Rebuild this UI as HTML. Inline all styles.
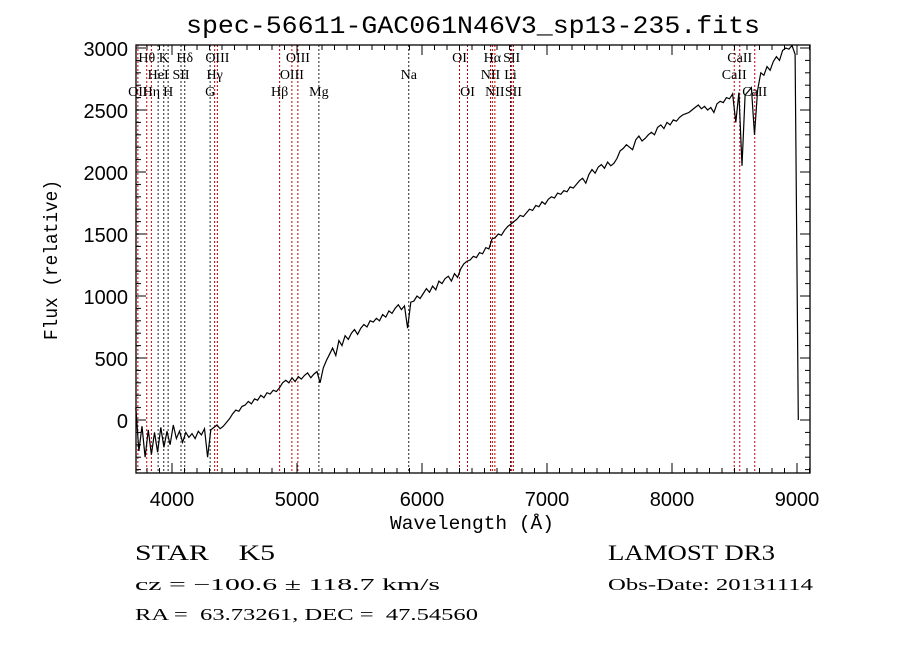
<!DOCTYPE html>
<html><head><meta charset="utf-8"><style>
html,body{margin:0;padding:0;background:#fff;}
svg{display:block;}
.tk{font-family:"Liberation Sans",sans-serif;font-size:20px;fill:#000;}
.ln{font-family:"Liberation Serif",serif;font-size:14px;fill:#000;}
.bt{font-family:"Liberation Serif",serif;fill:#000;}
</style></head><body>
<svg id="chart" width="900" height="649" viewBox="0 0 900 649" xmlns="http://www.w3.org/2000/svg">
<rect width="900" height="649" fill="#fff"/>
<text x="473" y="33" text-anchor="middle" font-family="Liberation Mono, monospace" font-size="25" textLength="574" lengthAdjust="spacingAndGlyphs">spec-56611-GAC061N46V3_sp13-235.fits</text>
<g id="lines"></g>
<g id="labels"></g>
<g id="ticks"></g>
<path id="spec" fill="none" stroke="#000" stroke-width="1.2"/>
<rect x="136" y="45" width="674" height="428" fill="none" stroke="#000" stroke-width="1.3"/>
<text x="472" y="529" text-anchor="middle" font-family="Liberation Mono, monospace" font-size="19" textLength="164" lengthAdjust="spacingAndGlyphs">Wavelength (Å)</text>
<text transform="translate(57,260) rotate(-90)" text-anchor="middle" font-family="Liberation Mono, monospace" font-size="19" textLength="160" lengthAdjust="spacingAndGlyphs">Flux (relative)</text>
<text class="bt" x="135" y="560" font-size="22" textLength="140" lengthAdjust="spacingAndGlyphs" xml:space="preserve" style="white-space:pre">STAR    K5</text>
<text class="bt" x="135" y="590" font-size="17" textLength="305" lengthAdjust="spacingAndGlyphs">cz = −100.6 ± 118.7 km/s</text>
<text class="bt" x="135" y="620" font-size="17" textLength="343" lengthAdjust="spacingAndGlyphs" xml:space="preserve" style="white-space:pre">RA =  63.73261, DEC =  47.54560</text>
<text class="bt" x="608" y="560" font-size="22" textLength="167" lengthAdjust="spacingAndGlyphs">LAMOST DR3</text>
<text class="bt" x="608" y="590" font-size="17" textLength="205" lengthAdjust="spacingAndGlyphs">Obs-Date: 20131114</text>
</svg>
<script>
const waveStart = 3710;
const waveStep = 25;
const flux = [100,-250,-50,-300,-80,-280,-100,-260,-60,-220,-90,-200,
-40,-150,-90,-180,-100,-140,-110,-150,-90,-120,-70,-300,-80,-60,-40,-70,-50,-20,10,50,
80,70,110,120,150,130,170,160,200,180,220,210,240,230,260,300,320,300,340,310,
350,330,360,380,340,370,390,300,420,480,530,580,520,640,600,680,650,700,730,690,
740,770,750,800,790,820,800,850,830,880,860,900,930,890,920,740,950,960,1000,980,
1020,1060,1030,1080,1050,1120,1100,1140,1160,1120,1180,1150,1220,1260,1280,1290,1320,1310,1350,1340,
1390,1380,1460,1470,1500,1490,1530,1560,1580,1600,1620,1650,1640,1670,1700,1690,1730,1720,1760,1740,
1780,1800,1790,1830,1820,1850,1840,1880,1870,1900,1930,1950,1910,1980,2020,1990,2040,2060,2030,2080,
2050,2070,2110,2170,2190,2220,2200,2180,2260,2290,2250,2270,2300,2320,2300,2360,2380,2350,2400,2380,
2420,2410,2440,2460,2470,2480,2500,2520,2540,2510,2530,2500,2520,2480,2550,2570,2560,2600,2590,2630,
2400,2640,2050,2620,2650,2680,2300,2660,2800,2780,2850,2820,2890,2930,2900,2980,3000,2990,3020,2950,0];
const lineWaves = [3727,3798,3835,3889,3934,3969,4072,4102,4305,4341,4363,4861,4959,5007,5175,5894,6300,6364,6548,6563,6583,6708,6717,6731,8498,8542,8662];
const lineNames = ["OII","Hθ","Hη","HeI","K","H","SII","Hδ","G","Hγ","OIII","Hβ","OIII","OIII","Mg","Na","OI","OI","NII","Hα","NII","Li","SII","SII","CaII","CaII","CaII"];
const lineRows = [2,0,2,1,0,2,1,0,2,1,0,2,1,0,2,1,0,2,1,0,2,1,0,2,1,0,2];
const lineBlack = [0,0,0,1,1,1,1,1,1,0,0,0,0,0,1,1,0,0,0,0,0,1,0,0,0,0,0];
const xTicks = [4000,5000,6000,7000,8000,9000];
const yTicks = [0,500,1000,1500,2000,2500,3000];

const X0=136,X1=810,Y0=473,Y1=45;
function xs(w){return 172+(w-4000)*0.125;}
function ys(f){return 420-f*0.124;}
const NS="http://www.w3.org/2000/svg";
function mk(t,a,p){const e=document.createElementNS(NS,t);for(const k in a)e.setAttribute(k,a[k]);p.appendChild(e);return e;}

const gL=document.getElementById('lines'), gT=document.getElementById('labels'), gK=document.getElementById('ticks');
lineWaves.forEach((w,i)=>{
  const x=xs(w);
  const l=mk('line',{x1:x,x2:x,y1:Y1,y2:Y0,stroke:lineBlack[i]?'#222':'#c00000','stroke-width':1,'stroke-dasharray':'2,2'},gL);
  
  
  const t=mk('text',{x:x,y:62+lineRows[i]*17,'text-anchor':'middle',class:'ln'},gT);
  t.textContent=lineNames[i];
  
  
});
let d='';
flux.forEach((f,i)=>{const w=waveStart+i*waveStep;d+=(i?'L':'M')+xs(w).toFixed(1)+','+ys(f).toFixed(1);});
document.getElementById('spec').setAttribute('d',d);
for(let w=3800;w<=9100;w+=100){
  const x=xs(w), maj=w%1000===0, len=maj?10:5;
  mk('line',{x1:x,x2:x,y1:Y0,y2:Y0-len,stroke:'#000'},gK);
  mk('line',{x1:x,x2:x,y1:Y1,y2:Y1+len,stroke:'#000'},gK);
}
xTicks.forEach(w=>{
  const t=mk('text',{x:xs(w),y:506,'text-anchor':'middle',class:'tk'},gK);
  t.textContent=w;
  
  
});
for(let f=-400;f<=3000;f+=100){
  const y=ys(f), maj=f%500===0, len=maj?10:5;
  mk('line',{x1:X0,x2:X0+len,y1:y,y2:y,stroke:'#000'},gK);
  mk('line',{x1:X1,x2:X1-len,y1:y,y2:y,stroke:'#000'},gK);
}
yTicks.forEach(f=>{
  const t=mk('text',{x:128,y:ys(f)+8,'text-anchor':'end',class:'tk'},gK);
  t.textContent=f;
  
  
});
</script>
</body></html>
